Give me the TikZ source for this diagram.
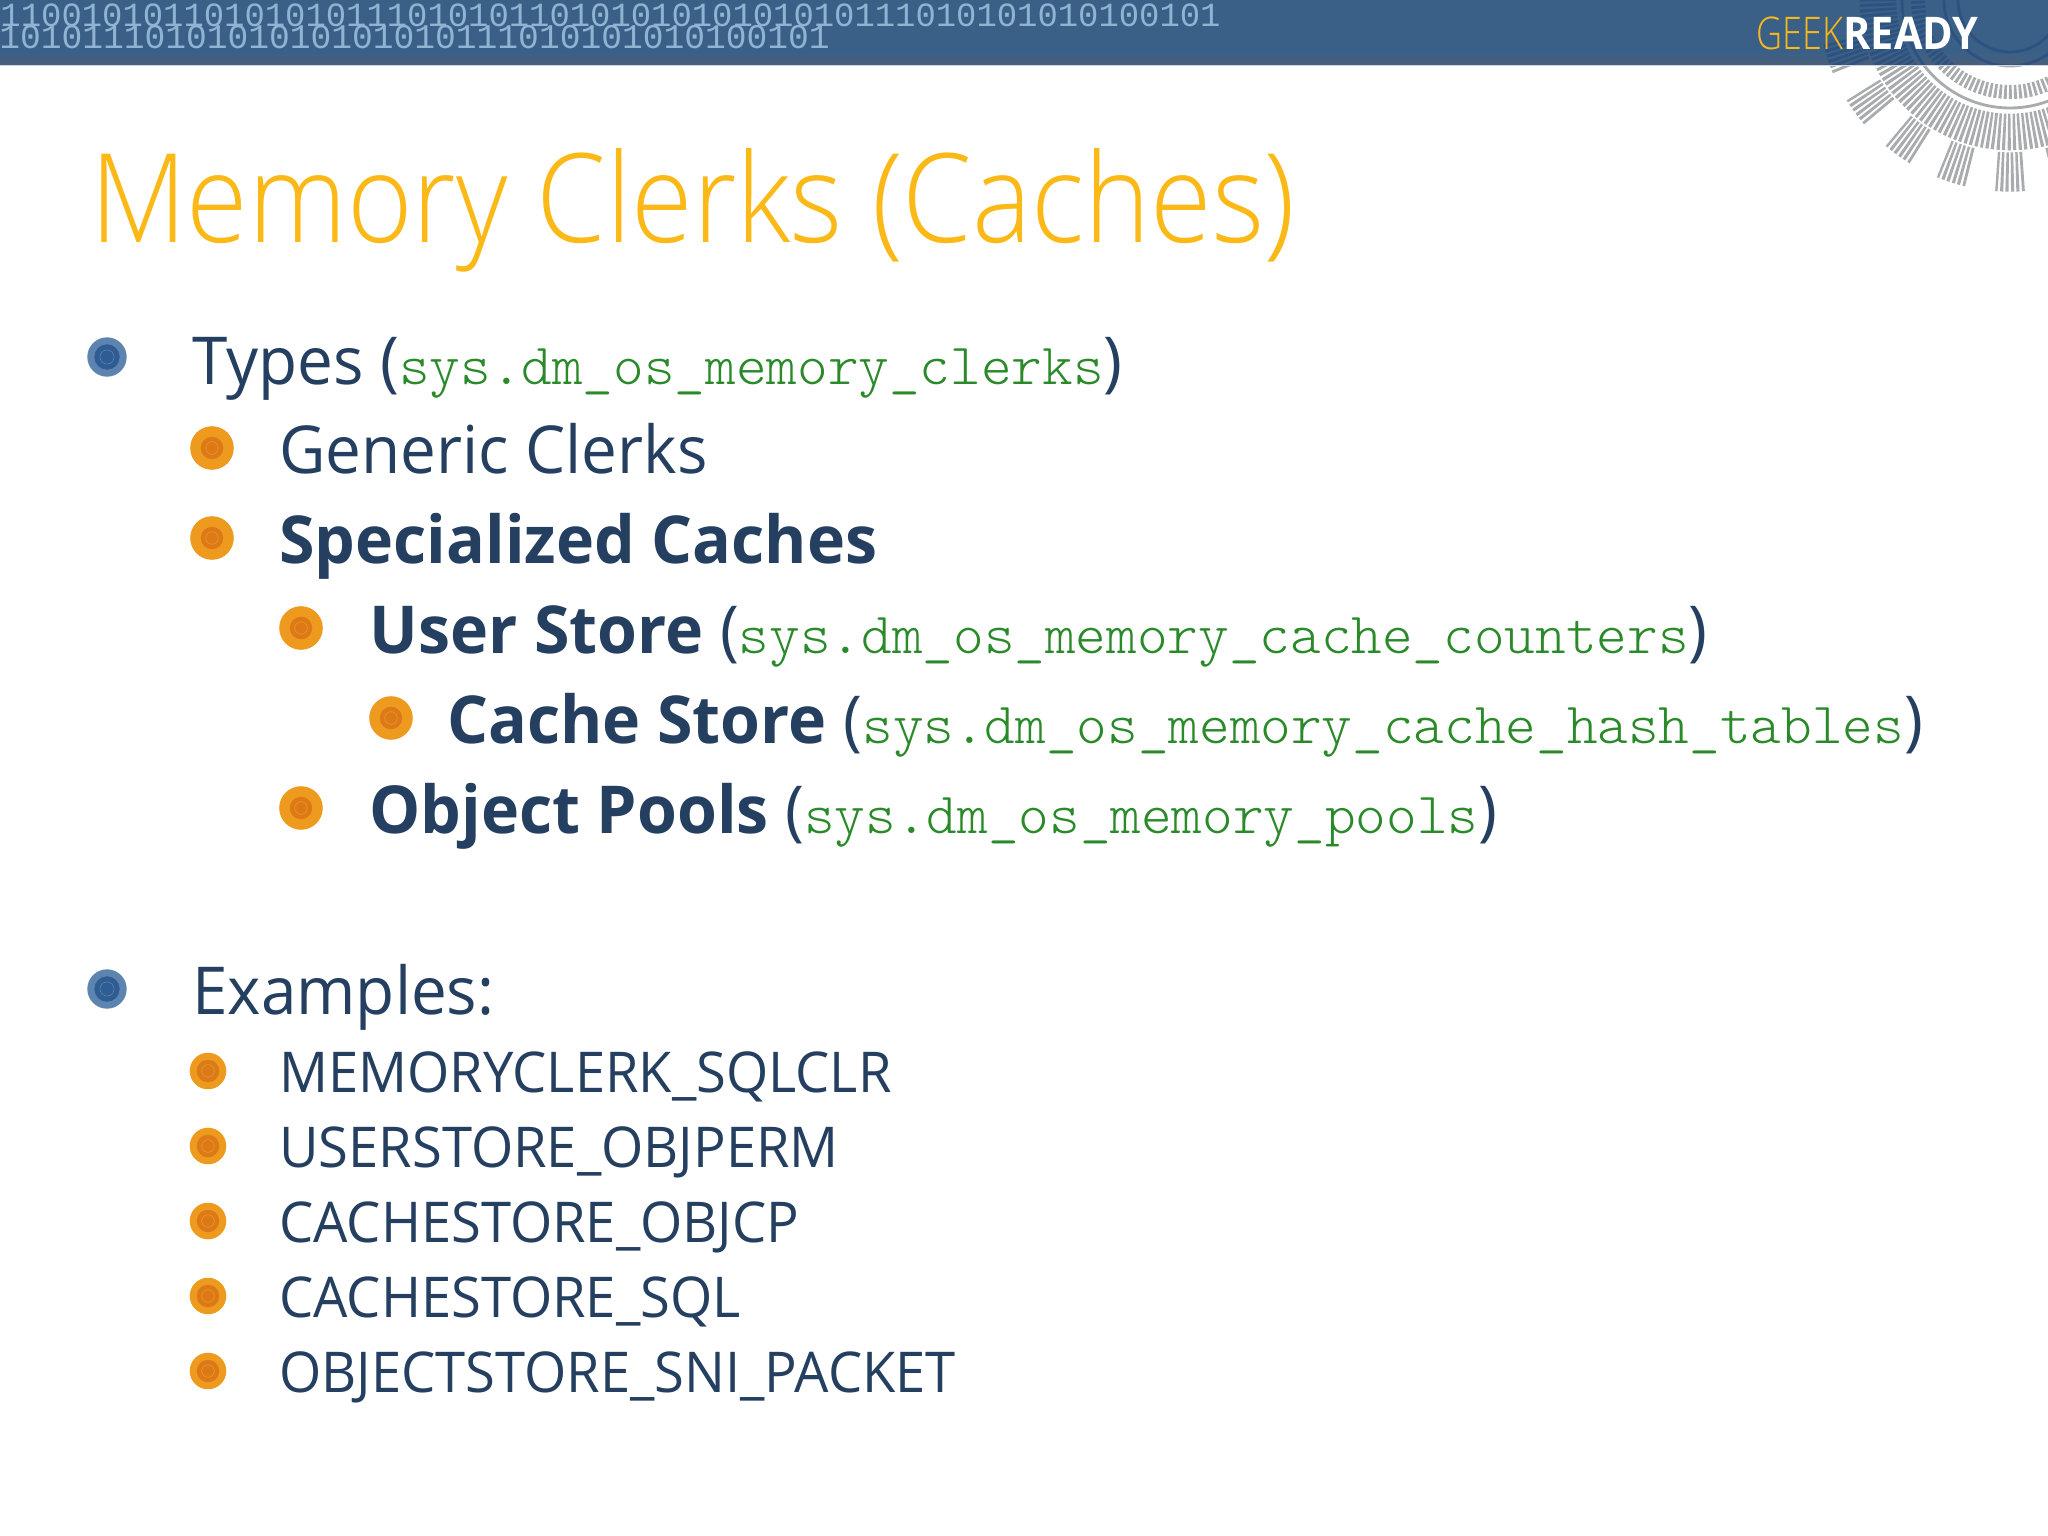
\documentclass[tikz,border=0pt]{standalone}
\usepackage{fontspec}
\setmainfont[FakeStretch=0.965,BoldFeatures={FakeStretch=0.975}]{Open Sans}
\setmonofont{Latin Modern Mono Light}
\newfontfamily\lightfont[FakeStretch=0.905]{Open Sans Light}
\newfontfamily\logofont[FakeStretch=0.8]{Open Sans Light}
\newfontfamily\logoboldfont[FakeStretch=0.92]{Open Sans}
\newfontfamily\binfont{Liberation Mono}
\definecolor{bandblue}{HTML}{3A6088}
\definecolor{banddark}{HTML}{4A5E78}
\definecolor{binblue}{HTML}{8FB4D2}
\definecolor{titleamber}{HTML}{FBB917}
\definecolor{inkblue}{HTML}{243F60}
\definecolor{codegreen}{HTML}{2A8A2A}
\definecolor{geargray}{HTML}{A8ACAF}
\definecolor{geardark}{HTML}{2D5280}
\definecolor{dotblue}{HTML}{5C84AE}
\definecolor{dotblueC}{HTML}{2F5C92}
\definecolor{dotorange}{HTML}{EE9A1E}
\definecolor{dotorangeC}{HTML}{DD7A18}
\newcommand{\codetxt}[1]{{\fontsize{41.5}{41.5}\ttfamily\mdseries\color{codegreen}#1}}
\newcommand{\gearrings}[1]{
    \begin{scope}[shift={(2010,0)}]
    \draw[#1, line width=26pt, dash pattern=on 2pt off 1.5pt] (0,0) circle [radius=132];
    \draw[#1, line width=10pt, dash pattern=on 2pt off 1.5pt] (0,0) circle [radius=92];
    \draw[#1, line width=2pt] (0,0) circle [radius=108];
    \draw[#1, line width=2pt] (0,0) circle [radius=66];
    \draw[#1, line width=2pt] (0,0) circle [radius=52];
    \foreach \a in {18,36,...,162}
    \draw[#1, line width=28pt, dash pattern=on 2pt off 1.5pt] (\a-4.5:172) arc [start angle=\a-4.5, end angle=\a+4.5, radius=172];
    \end{scope}
}
\tikzset{
    titletext/.style={anchor=base west, inner sep=0pt, titleamber, font=\fontsize{88}{88}\lightfont},
    itemtext/.style={anchor=base west, inner sep=0pt, inkblue, font=\fontsize{47}{47}\selectfont},
    smalltext/.style={anchor=base west, inner sep=0pt, inkblue, font=\fontsize{40}{40}\selectfont},
    bintext/.style={anchor=base east, inner sep=0pt, binblue, font=\fontsize{24.1}{24.1}\binfont},
    bluedot/.style={circle, inner sep=0pt, minimum size=28pt, fill=dotblue, path picture={
        \fill[dotblueC] (path picture bounding box.center) circle [radius=9pt];
        \draw[dotblue, thin] (path picture bounding box.center) circle [radius=5pt];}},
    orangedot/.style={circle, inner sep=0pt, minimum size=#1, fill=dotorange, path picture={
        \fill[dotorangeC] (path picture bounding box.center) circle [radius=8pt];
        \draw[dotorange, thin] (path picture bounding box.center) circle [radius=4.5pt];}},
    orangedot/.default=31pt
}
\begin{document}
\begin{tikzpicture}[x=0.025cm, y=-0.025cm]
    \useasboundingbox (0,0) rectangle (2048,1536);
    \fill[white] (0,0) rectangle (2048,1536);
    % band and gear
    \begin{scope}
    \clip (0,65) rectangle (2048,260);
    \gearrings{geargray}
    \end{scope}
    \fill[bandblue] (0,0) rectangle (2048,52);
    \shade[top color=bandblue, bottom color=banddark] (0,52) rectangle (2048,65);
    \fill[bandblue!25] (0,65) rectangle (2048,66);
    \begin{scope}
    \clip (0,0) rectangle (2048,65);
    \gearrings{geardark}
    \node[bintext] (binA) at (1221,27) {110010101101010101110101011010101010101010111010101010100101};
    \node[bintext, font=\fontsize{24.6}{24.6}\binfont] (binB) at (830,49) {1010111010101010101010111010101010100101};
    \end{scope}
    \node[anchor=base east, inner sep=0pt, white, font=\fontsize{32}{32}\logoboldfont\bfseries] (ready) at (1979,50) {READY};
    \node[anchor=base east, inner sep=0pt, titleamber, font=\fontsize{32}{32}\logofont] (geek) at (ready.base west) {GEEK};
    % title
    \node[titletext] (title) at (90,243) {Memory Clerks (Caches)};
    % upper list
    \node[bluedot] (dotTypes) at (107,357) {};
    \node[itemtext] (types) at (192,385) {Types (\codetxt{sys.dm\_os\_memory\_clerks})};
    \node[orangedot] (dotGeneric) at (212,448) {};
    \node[itemtext] (generic) at (279,474) {Generic Clerks};
    \node[orangedot] (dotSpecial) at (212,538) {};
    \node[itemtext] (special) at (279,564) {\bfseries Specialized Caches};
    \node[orangedot] (dotUser) at (301,628) {};
    \node[itemtext] (user) at (369,653) {\textbf{User Store} (\codetxt{sys.dm\_os\_memory\_cache\_counters})};
    \node[orangedot] (dotCache) at (391,718) {};
    \node[itemtext] (cache) at (447,743) {\textbf{Cache Store} (\codetxt{sys.dm\_os\_memory\_cache\_hash\_tables})};
    \node[orangedot] (dotObject) at (301,808) {};
    \node[itemtext] (object) at (369,833) {\textbf{Object Pools} (\codetxt{sys.dm\_os\_memory\_pools})};
    % examples
    \node[bluedot] (dotExamples) at (107,989) {};
    \node[itemtext] (examples) at (192,1014) {Examples:};
    \foreach \y/\n/\t in {1071/a/MEMORYCLERK\_SQLCLR, 1146/b/USERSTORE\_OBJPERM, 1221/c/CACHESTORE\_OBJCP, 1296/d/CACHESTORE\_SQL, 1371/e/OBJECTSTORE\_SNI\_PACKET}
    {
    \node[orangedot=26pt] (dot\n) at (208,\y) {};
    \node[smalltext, yshift=-15pt] (ex\n) at (279,\y) {\t};
    }
\end{tikzpicture}
\end{document}
